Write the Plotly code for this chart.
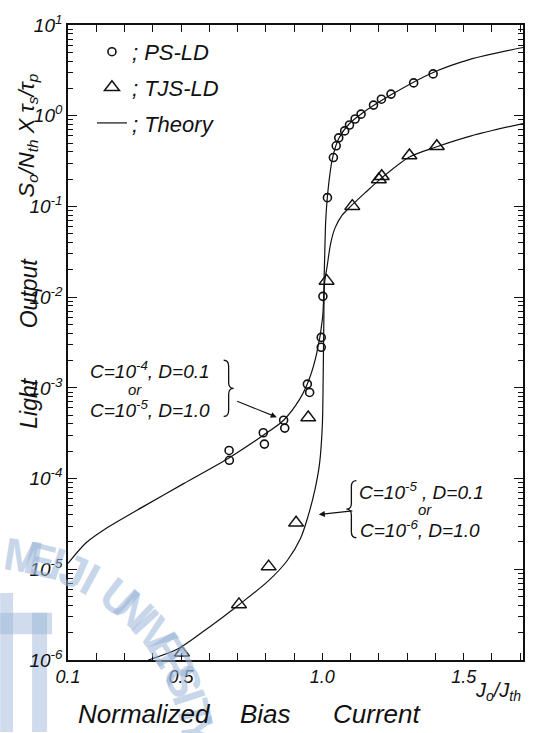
import numpy as np
import plotly.graph_objects as go

# ---- measured light output vs normalized bias current ----
ps_x = [0.670, 0.671, 0.791, 0.795, 0.863, 0.867, 0.947, 0.955, 0.996, 0.996,
        1.002, 1.018, 1.039, 1.049, 1.058, 1.079, 1.096, 1.116, 1.137, 1.181,
        1.209, 1.243, 1.323, 1.392]
ps_y = [2.04e-4, 1.59e-4, 3.2e-4, 2.4e-4, 4.4e-4, 3.6e-4, 1.1e-3, 8.9e-4, 3.6e-3, 2.8e-3,
        1.02e-2, 0.125, 0.346, 0.466, 0.57, 0.68, 0.79, 0.92, 1.04, 1.31,
        1.52, 1.73, 2.30, 2.89]

tjs_x = [0.503, 0.705, 0.810, 0.907, 0.950, 1.015, 1.106, 1.200, 1.210, 1.308, 1.405]
tjs_y = [1.2e-6, 4.1e-6, 1.07e-5, 3.25e-5, 4.7e-4, 0.0151, 0.1007, 0.198, 0.215, 0.365, 0.461]

# ---- theoretical curves ----
theory_ps_x = [0.100, 0.164, 0.233, 0.371, 0.509, 0.671, 0.791, 0.863, 0.921, 0.954,
               0.980, 1.001, 1.007, 1.012, 1.020, 1.035, 1.058, 1.096, 1.140, 1.243,
               1.392, 1.520, 1.710]
theory_ps_y = [1.16e-5, 1.96e-5, 2.8e-5, 5.0e-5, 8.8e-5, 1.70e-4, 3.0e-4, 4.4e-4, 7.6e-4, 1.26e-3,
               2.4e-3, 6.0e-3, 0.020, 0.070, 0.150, 0.33, 0.56, 0.82, 1.06, 1.70,
               3.0, 4.16, 5.65]

theory_tjs_x = [0.384, 0.488, 0.602, 0.705, 0.808, 0.876, 0.923, 0.949, 0.974, 0.990,
                1.000, 1.003, 1.005, 1.008, 1.017, 1.030, 1.045, 1.070, 1.100, 1.150,
                1.205, 1.308, 1.405, 1.527, 1.710]
theory_tjs_y = [1.0e-6, 1.32e-6, 2.33e-6, 4.07e-6, 7.4e-6, 1.25e-5, 2.2e-5, 3.8e-5, 7.6e-5, 1.45e-4,
                3.9e-4, 1.36e-3, 4.7e-3, 1.44e-2, 0.022, 0.040, 0.058, 0.080, 0.100, 0.140,
                0.200, 0.350, 0.455, 0.60, 0.82]

# ---- axis ticks ----
x_tick_vals = [0.1, 0.2, 0.3, 0.4, 0.5, 0.6, 0.7, 0.8, 0.9, 1.0, 1.1, 1.2, 1.3, 1.4, 1.5, 1.6, 1.7]
x_tick_text = ["0.1", "", "", "", "0.5", "", "", "", "", "1.0", "", "", "", "", "1.5", "", ""]
y_exponents = [-6, -5, -4, -3, -2, -1, 0, 1]
y_tick_text = ["10<sup>%d</sup>" % e for e in y_exponents]

# ---- page geometry ----
W, H = 537, 733
ML, MR, MT, MB = 68, 13, 16, 73
FONT = "Liberation Sans"
INK = "#111111"


def fx(px):
    return (px - ML) / (W - ML - MR)


def fy(py):
    return (H - MB - py) / (H - MT - MB)


fig = go.Figure()

fig.add_trace(go.Scatter(
    x=theory_ps_x, y=theory_ps_y, mode="lines", name="; Theory",
    line=dict(color=INK, width=1.2, shape="spline", smoothing=0.8),
    legendgroup="c", legendrank=3))
fig.add_trace(go.Scatter(
    x=theory_tjs_x, y=theory_tjs_y, mode="lines", showlegend=False,
    line=dict(color=INK, width=1.2, shape="spline", smoothing=0.8),
    legendgroup="c"))
fig.add_trace(go.Scatter(
    x=ps_x, y=ps_y, mode="markers", name="; PS-LD",
    marker=dict(symbol="circle-open", size=8, color=INK, line=dict(width=1.6, color=INK)),
    legendgroup="a", legendrank=1))
fig.add_trace(go.Scatter(
    x=tjs_x, y=tjs_y, mode="markers", name="; TJS-LD",
    marker=dict(symbol="triangle-up-open", size=13, color=INK, line=dict(width=1.5, color=INK)),
    legendgroup="b", legendrank=2))

minor_vals = [k * 10.0 ** e for e in y_exponents[:-1] for k in range(2, 10)]

fig.update_xaxes(
    range=[0.1, 1.71], showgrid=False, zeroline=False,
    showline=True, linecolor=INK, linewidth=1.6, mirror="ticks",
    ticks="inside", ticklen=7, tickwidth=1.3, tickcolor=INK,
    tickmode="array", tickvals=x_tick_vals, ticktext=x_tick_text,
    tickfont=dict(family=FONT, size=18, color=INK, style="italic"))
fig.update_yaxes(
    type="log", range=[-6, 1], showgrid=False, zeroline=False,
    showline=True, linecolor=INK, linewidth=1.6, mirror="ticks",
    ticks="inside", ticklen=9, tickwidth=1.3, tickcolor=INK,
    tickmode="array", tickvals=[10.0 ** e for e in y_exponents], ticktext=y_tick_text,
    tickfont=dict(family=FONT, size=19, color=INK, style="italic"),
    minor=dict(tickmode="array", tickvals=minor_vals, ticks="inside",
               ticklen=5, tickwidth=1.1, tickcolor=INK, showgrid=False))

ann = []

# watermark lettering along an arc
wm_text = "MEIJI UNIVERSITY"
wm_cx, wm_cy, wm_r = -10, 762, 210
for i, ch in enumerate(wm_text):
    if ch == " ":
        continue
    th = 9 + 73 * i / (len(wm_text) - 1)
    px = wm_cx + wm_r * np.sin(np.radians(th))
    py = wm_cy - wm_r * np.cos(np.radians(th))
    ann.append(dict(x=fx(px), y=fy(py), xref="paper", yref="paper", text=ch,
                    xanchor="center", yanchor="middle",
                    textangle=th, showarrow=False,
                    font=dict(family=FONT, size=46, weight=700,
                              color="rgba(150,178,214,0.55)")))


def label(px, py, text, size=19, angle=0):
    ann.append(dict(x=fx(px), y=fy(py), xref="paper", yref="paper", text=text,
                    xanchor="center", yanchor="middle",
                    showarrow=False, textangle=angle,
                    font=dict(family=FONT, size=size, color=INK, style="italic")))


# parameter notes for the two theory curves
label(150, 366, "C=10<sup>-4</sup>, D=0.1")
label(135, 386, "or", 15)
label(150, 405, "C=10<sup>-5</sup>, D=1.0")
label(422, 489, "C=10<sup>-5</sup> , D=0.1")
label(426, 507, "or", 15)
label(421, 527, "C=10<sup>-6</sup>, D=1.0")

# arrows from the notes to the curves
ann.append(dict(x=0.842, y=np.log10(4.7e-4), xref="x", yref="y", ax=-42, ay=-17,
                text="", showarrow=True, arrowhead=2, arrowsize=1.1, arrowwidth=1.1,
                arrowcolor=INK, standoff=1))
ann.append(dict(x=0.984, y=np.log10(4.0e-5), xref="x", yref="y", ax=36, ay=-4,
                text="", showarrow=True, arrowhead=2, arrowsize=1.1, arrowwidth=1.1,
                arrowcolor=INK, standoff=1))

# axis titles
label(29, 400, "Light", 23, -90)
label(29, 288, "Output", 23, -90)
label(28, 128, "S<sub>o</sub>/N<sub>th</sub> X τ<sub>s</sub>/τ<sub>p</sub>", 22, -90)
label(145, 715, "Normalized", 26)
label(266, 715, "Bias", 26)
label(378, 715, "Current", 26)
label(499, 692, "J<sub>o</sub>/J<sub>th</sub>", 20)


def brace(xc, top, bot, w, facing):
    """Thin curly brace path; facing=+1 points right, -1 points left."""
    mid = (top + bot) / 2
    d = 6
    xa = xc - facing * w / 2
    xt = xc + facing * w / 2
    pts = [("M", xa, top), ("Q", xc, top), ("", xc, top + d), ("L", xc, mid - d),
           ("Q", xc, mid), ("", xt, mid), ("Q", xc, mid), ("", xc, mid + d),
           ("L", xc, bot - d), ("Q", xc, bot), ("", xa, bot)]
    path = " ".join(f"{c} {fx(a):.5f},{fy(b):.5f}".strip() for c, a, b in pts)
    return dict(type="path", xref="paper", yref="paper", path=path,
                line=dict(color=INK, width=1.3))


# watermark emblem
wm_fill = "rgba(150,178,214,0.45)"
shapes = [
    dict(type="rect", xref="paper", yref="paper", x0=fx(0), x1=fx(13), y0=fy(733), y1=fy(592),
         fillcolor=wm_fill, line=dict(width=0), layer="below"),
    dict(type="rect", xref="paper", yref="paper", x0=fx(0), x1=fx(52), y0=fy(634), y1=fy(612),
         fillcolor=wm_fill, line=dict(width=0), layer="below"),
    dict(type="rect", xref="paper", yref="paper", x0=fx(32), x1=fx(47), y0=fy(733), y1=fy(612),
         fillcolor=wm_fill, line=dict(width=0), layer="below"),
    brace(229, 356, 413, 10, 1),
    brace(352, 478, 536, 10, -1),
]

fig.update_layout(
    width=W, height=H, margin=dict(l=ML, r=MR, t=MT, b=MB, pad=0),
    paper_bgcolor="white", plot_bgcolor="rgba(0,0,0,0)",
    annotations=ann, shapes=shapes,
    showlegend=True,
    legend=dict(x=fx(92), y=fy(22), xanchor="left", yanchor="top",
                bgcolor="rgba(0,0,0,0)", borderwidth=0,
                traceorder="grouped", tracegroupgap=4,
                font=dict(family=FONT, size=22, color=INK, style="italic"),
                itemwidth=30),
)

fig.write_html("out.html")
